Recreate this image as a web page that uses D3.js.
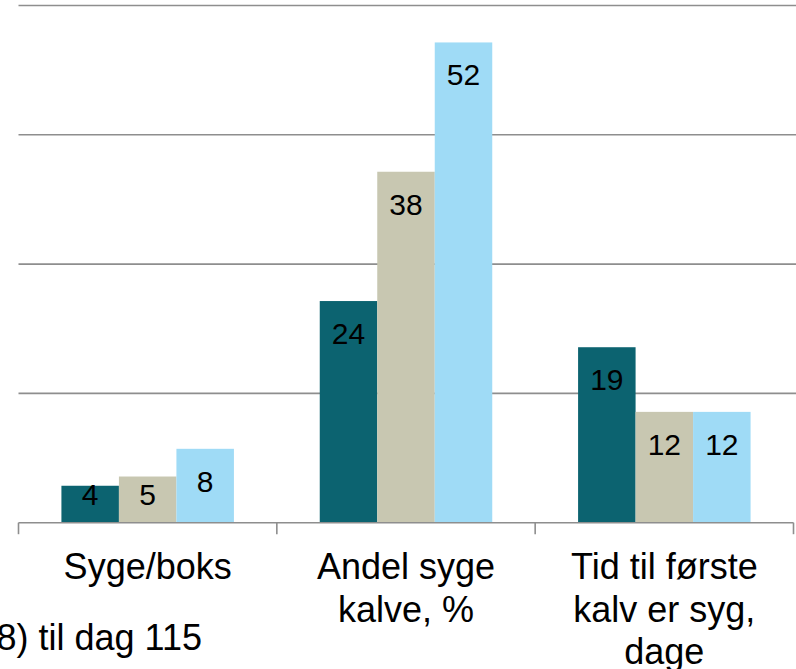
<!DOCTYPE html>
<html>
<head>
<meta charset="utf-8">
<style>
  body { margin: 0; background: #fff; overflow: hidden; }
  svg { display: block; font-family: "Liberation Sans", Arial, sans-serif; }
</style>
</head>
<body>
<script src="https://d3js.org/d3.v7.min.js"></script>
<script>
// data
var categories = [["Syge/boks"], ["Andel syge", "kalve, %"], ["Tid til første", "kalv er syg,", "dage"]];
var seriesNames = ["Gruppe 1", "Gruppe 2", "Gruppe 3"];
var seriesValues = [
  [4, 24, 19],
  [5, 38, 12],
  [8, 52, 12]
];
var seriesColors = ["#0c6370", "#c8c7b1", "#9fdbf6"];
var yTicks = [0, 14, 28, 42, 56];
var footText = "8) til dag 115";

var width = 796, height = 669;
var svg = d3.select("body").append("svg").attr("width", width).attr("height", height);

var catKeys = categories.map(function (c) { return c.join(" "); });

var x = d3.scaleBand().domain(catKeys).range([18.5, 793.5]).padding(0);
var inner = d3.scaleBand().domain(seriesNames).range([0, 172.5]).padding(0);
var y = d3.scaleLinear().domain([0, 56]).range([522.7, 5.5]);

var innerOffset = (x.bandwidth() - 172.5) / 2;

// gridlines
svg.append("g").selectAll("line")
  .data(yTicks.slice(1))
  .enter().append("line")
  .attr("x1", 18.5).attr("x2", width)
  .attr("y1", function (d) { return y(d); })
  .attr("y2", function (d) { return y(d); })
  .attr("stroke", "#8e8e8e")
  .attr("stroke-width", 1.6);

// bars
var rows = [];
seriesNames.forEach(function (s, si) {
  catKeys.forEach(function (c, ci) {
    rows.push({ cat: c, series: s, value: seriesValues[si][ci], color: seriesColors[si] });
  });
});

svg.append("g").selectAll("rect")
  .data(rows)
  .enter().append("rect")
  .attr("x", function (d) { return x(d.cat) + innerOffset + inner(d.series); })
  .attr("width", inner.bandwidth())
  .attr("y", function (d) { return y(d.value); })
  .attr("height", function (d) { return y(0) - y(d.value); })
  .attr("fill", function (d) { return d.color; });

// value labels, inside end
svg.append("g").selectAll("text")
  .data(rows)
  .enter().append("text")
  .attr("x", function (d) { return x(d.cat) + innerOffset + inner(d.series) + inner.bandwidth() / 2; })
  .attr("y", function (d) { return Math.min(y(d.value) + 43, y(0) - 17.5); })
  .attr("text-anchor", "middle")
  .attr("font-size", 30)
  .attr("fill", "#000")
  .text(function (d) { return d.value; });

// x axis
var axis = svg.append("g").attr("transform", "translate(0," + y(0) + ")")
  .call(d3.axisBottom(x).tickSize(0).tickFormat(""));
axis.select(".domain").attr("stroke", "#8e8e8e").attr("stroke-width", 1.6)
  .attr("d", "M18.5,0H793.5");
axis.selectAll(".tick").remove();

var bounds = [18.5].concat(catKeys.map(function (c) { return x(c) + x.bandwidth(); }));
axis.selectAll("line.sep")
  .data(bounds)
  .enter().append("line")
  .attr("class", "sep")
  .attr("x1", function (d) { return d; }).attr("x2", function (d) { return d; })
  .attr("y1", 0).attr("y2", 11.5)
  .attr("stroke", "#8e8e8e")
  .attr("stroke-width", 1.6);

// category labels
var labels = svg.append("g").selectAll("text")
  .data(categories)
  .enter().append("text")
  .attr("text-anchor", "middle")
  .attr("font-size", 36)
  .attr("fill", "#000")
  .attr("transform", function (d, i) {
    return "translate(" + (x(catKeys[i]) + x.bandwidth() / 2) + ",579)";
  });
labels.selectAll("tspan")
  .data(function (d) { return d; })
  .enter().append("tspan")
  .attr("x", 0)
  .attr("y", function (d, i) { return i * 42.5; })
  .text(function (d) { return d; });

// clipped footnote fragment
svg.append("text")
  .attr("x", 202)
  .attr("y", 650)
  .attr("text-anchor", "end")
  .attr("font-size", 36)
  .attr("fill", "#000")
  .text(footText);
</script>
</body>
</html>
